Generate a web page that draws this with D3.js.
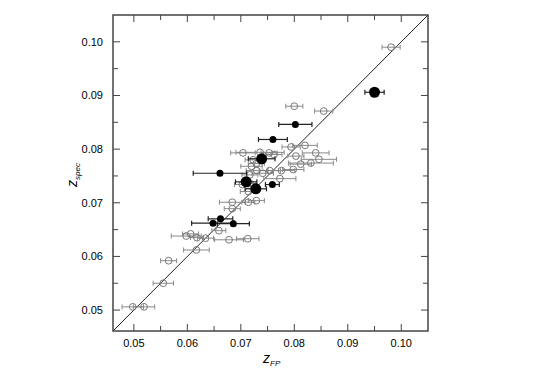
<!DOCTYPE html>
<html>
<head>
<meta charset="utf-8">
<script src="https://cdn.jsdelivr.net/npm/d3@7"></script>
<style>
  body { margin: 0; background: #fff; }
  svg text { font-family: "Liberation Sans", Arial, sans-serif; }
</style>
</head>
<body>
<div id="chart"></div>
<script>
// open circles: z_FP, z_spec, error on z_FP
const openX = [0.0981, 0.0800, 0.0855, 0.0794, 0.0820, 0.0704, 0.0736, 0.0753, 0.0762, 0.0803,
  0.0840, 0.0846, 0.0831, 0.0812, 0.0723, 0.0720, 0.0729, 0.0730, 0.0754, 0.0776,
  0.0798, 0.0717, 0.0741, 0.0773, 0.0703, 0.0717, 0.0714, 0.0729, 0.0714, 0.0684,
  0.0684, 0.0659, 0.0598, 0.0606, 0.0618, 0.0634, 0.0678, 0.0713, 0.0617, 0.0565,
  0.0555, 0.0498, 0.0519];
const openY = [0.0990, 0.0880, 0.0871, 0.0804, 0.0807, 0.0793, 0.0794, 0.0793, 0.0790, 0.0787,
  0.0793, 0.0781, 0.0774, 0.0772, 0.0780, 0.0768, 0.0773, 0.0760, 0.0760, 0.0760,
  0.0762, 0.0752, 0.0755, 0.0745, 0.0734, 0.0736, 0.0721, 0.0704, 0.0701, 0.0701,
  0.0689, 0.0648, 0.0638, 0.0642, 0.0635, 0.0634, 0.0631, 0.0633, 0.0612, 0.0592,
  0.0550, 0.0506, 0.0506];
const openErr = [0.0017, 0.0016, 0.0017, 0.0017, 0.0023, 0.0023, 0.0045, 0.0015, 0.0015, 0.0015,
  0.0025, 0.0033, 0.0042, 0.0020, 0.0015, 0.0020, 0.0015, 0.0020, 0.0020, 0.0025,
  0.0020, 0.0015, 0.0020, 0.0030, 0.0015, 0.0012, 0.0015, 0.0015, 0.0012, 0.0024,
  0.0015, 0.0013, 0.0028, 0.0015, 0.0012, 0.0015, 0.0027, 0.0021, 0.0024, 0.0015,
  0.0019, 0.0020, 0.0020];

// filled circles, small
const smallX = [0.0802, 0.0760, 0.0661, 0.0759, 0.0662, 0.0648, 0.0686];
const smallY = [0.0846, 0.0818, 0.0755, 0.0734, 0.0670, 0.0662, 0.0661];
const smallErr = [0.0031, 0.0027, 0.0050, 0.0013, 0.0023, 0.0040, 0.0030];

// filled circles, large
const bigX = [0.0950, 0.0739, 0.0710, 0.0728];
const bigY = [0.0906, 0.0782, 0.0739, 0.0726];
const bigErr = [0.0018, 0.0025, 0.0020, 0.0020];

const xTicks = [0.05, 0.06, 0.07, 0.08, 0.09, 0.10];
const yTicks = [0.05, 0.06, 0.07, 0.08, 0.09, 0.10];
const minorTicks = [0.055, 0.065, 0.075, 0.085, 0.095];

const zip = (xs, ys, es) => xs.map((v, i) => ({x: v, y: ys[i], e: es[i]}));
const openPts = zip(openX, openY, openErr);
const smallPts = zip(smallX, smallY, smallErr);
const bigPts = zip(bigX, bigY, bigErr);

const width = 543, height = 377;
const pLeft = 113, pRight = 428, pTop = 15, pBottom = 331;

const svg = d3.select("#chart").append("svg")
  .attr("width", width)
  .attr("height", height);

const x = d3.scaleLinear().domain([0.0461, 0.1050]).range([pLeft, pRight]);
const y = d3.scaleLinear().domain([0.0461, 0.1050]).range([pBottom, pTop]);

svg.append("clipPath").attr("id", "clip")
  .append("rect").attr("x", pLeft).attr("y", pTop)
  .attr("width", pRight - pLeft).attr("height", pBottom - pTop);

// tick marks on all four sides, pointing inward
const tickCol = "#444";
function ticks(vals, len) {
  vals.forEach(v => {
    svg.append("line").attr("x1", x(v)).attr("x2", x(v)).attr("y1", pBottom).attr("y2", pBottom - len)
      .attr("stroke", tickCol).attr("stroke-width", 1);
    svg.append("line").attr("x1", x(v)).attr("x2", x(v)).attr("y1", pTop).attr("y2", pTop + len)
      .attr("stroke", tickCol).attr("stroke-width", 1);
    svg.append("line").attr("y1", y(v)).attr("y2", y(v)).attr("x1", pLeft).attr("x2", pLeft + len)
      .attr("stroke", tickCol).attr("stroke-width", 1);
    svg.append("line").attr("y1", y(v)).attr("y2", y(v)).attr("x1", pRight).attr("x2", pRight - len)
      .attr("stroke", tickCol).attr("stroke-width", 1);
  });
}
ticks(minorTicks, 5);
ticks(xTicks, 7);

// tick labels
svg.selectAll(".xl").data(xTicks).enter().append("text")
  .attr("x", d => x(d)).attr("y", 347)
  .attr("text-anchor", "middle").attr("font-size", 11).attr("fill", "#000")
  .text(d => d3.format(".2f")(d));
svg.selectAll(".yl").data(yTicks).enter().append("text")
  .attr("x", 103).attr("y", d => y(d) + 4)
  .attr("text-anchor", "end").attr("font-size", 11).attr("fill", "#000")
  .text(d => d3.format(".2f")(d));

// axis titles
const xt = svg.append("text").attr("x", 263).attr("y", 363)
  .attr("font-family", "Liberation Serif, serif").attr("font-style", "italic").attr("font-size", 14);
xt.append("tspan").text("z");
xt.append("tspan").attr("font-size", 8).attr("dy", 3).text("FP");

const yt = svg.append("text").attr("transform", "translate(77,187) rotate(-90)")
  .attr("font-family", "Liberation Serif, serif").attr("font-style", "italic").attr("font-size", 14);
yt.append("tspan").text("z");
yt.append("tspan").attr("font-size", 8).attr("dy", 3).text("spec");

const plot = svg.append("g").attr("clip-path", "url(#clip)");

// one-to-one line
plot.append("line")
  .attr("x1", x(0.0461)).attr("y1", y(0.0461))
  .attr("x2", x(0.1050)).attr("y2", y(0.1050))
  .attr("stroke", "#222").attr("stroke-width", 1);

function errorBars(pts, col, w) {
  const g = plot.append("g").attr("stroke", col).attr("stroke-width", w);
  pts.forEach(d => {
    g.append("line").attr("x1", x(d.x - d.e)).attr("x2", x(d.x + d.e))
      .attr("y1", y(d.y)).attr("y2", y(d.y));
    [d.x - d.e, d.x + d.e].forEach(v => {
      g.append("line").attr("x1", x(v)).attr("x2", x(v))
        .attr("y1", y(d.y) - 2.5).attr("y2", y(d.y) + 2.5);
    });
  });
}

errorBars(openPts, "#8a8a8a", 1);
plot.selectAll(".open").data(openPts).enter().append("circle")
  .attr("cx", d => x(d.x)).attr("cy", d => y(d.y)).attr("r", 3.4)
  .attr("fill", "none").attr("stroke", "#777").attr("stroke-width", 1);

errorBars(smallPts.concat(bigPts), "#222", 1.2);
plot.selectAll(".small").data(smallPts).enter().append("circle")
  .attr("cx", d => x(d.x)).attr("cy", d => y(d.y)).attr("r", 3.5)
  .attr("fill", "#000");
plot.selectAll(".big").data(bigPts).enter().append("circle")
  .attr("cx", d => x(d.x)).attr("cy", d => y(d.y)).attr("r", 5.5)
  .attr("fill", "#000");

// frame
svg.append("rect").attr("x", pLeft).attr("y", pTop)
  .attr("width", pRight - pLeft).attr("height", pBottom - pTop)
  .attr("fill", "none").attr("stroke", "#444").attr("stroke-width", 1.5);
</script>
</body>
</html>
